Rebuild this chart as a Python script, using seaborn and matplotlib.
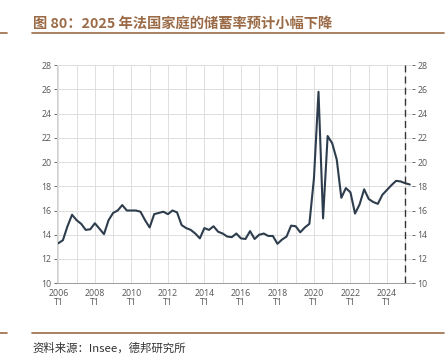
import pandas as pd
import numpy as np
import matplotlib.pyplot as plt
import seaborn as sns

# Household saving rate, France, quarterly (Insee)
years = [y for y in range(2006, 2026) for _ in range(4)][:78]
quarters = [q for _ in range(2006, 2026) for q in (1, 2, 3, 4)][:78]
saving_rate = [
    13.3, 13.55, 14.7, 15.65,   # 2006
    15.2, 14.9, 14.4, 14.45,    # 2007
    14.95, 14.5, 14.05, 15.2,   # 2008
    15.8, 16.0, 16.45, 16.0,    # 2009
    16.0, 16.0, 15.9, 15.2,     # 2010
    14.6, 15.7, 15.8, 15.9,     # 2011
    15.7, 16.0, 15.85, 14.8,    # 2012
    14.55, 14.4, 14.1, 13.7,    # 2013
    14.55, 14.4, 14.7, 14.25,   # 2014
    14.1, 13.85, 13.8, 14.1,    # 2015
    13.7, 13.65, 14.3, 13.65,   # 2016
    14.0, 14.1, 13.9, 13.9,     # 2017
    13.25, 13.6, 13.85, 14.75,  # 2018
    14.7, 14.2, 14.6, 14.9,     # 2019
    18.65, 25.8, 15.35, 22.15,  # 2020
    21.55, 20.2, 17.05, 17.85,  # 2021
    17.5, 15.75, 16.5, 17.75,   # 2022
    16.95, 16.7, 16.55, 17.3,   # 2023
    17.7, 18.1, 18.45, 18.4,    # 2024
    18.25, 18.15,               # 2025
]
tick_years = [2006, 2008, 2010, 2012, 2014, 2016, 2018, 2020, 2022, 2024]
tick_labels = [f"{y}\nT1" for y in tick_years]
y_ticks = list(range(10, 30, 2))
forecast_start = 2025

df = pd.DataFrame({'year': years, 'q': quarters, 'rate': saving_rate})
df['t'] = df['year'] + (df['q'] - 1) / 4

sns.set_theme(style="white")
plt.rcParams['font.family'] = ['Noto Sans CJK SC', 'DejaVu Sans']

fig = plt.figure(figsize=(4.48, 3.64), dpi=100)
ax = fig.add_axes([0.127, 0.222, 0.793, 0.599])

sns.lineplot(data=df, x='t', y='rate', color='#2e3d4d', linewidth=1.5, ax=ax)

ax.set_xlim(2005.92, 2025.38)
ax.set_ylim(10, 28)
ax.set_xticks(tick_years)
ax.set_xticklabels(tick_labels)
ax.set_xticks(np.arange(2006, 2025.5, 0.25), minor=True)
ax.set_yticks(y_ticks)
ax.set_xlabel('')
ax.set_ylabel('')

# grid every year / every 2 points
for yr in range(2006, 2026):
    ax.axvline(yr, color='#dedede', linewidth=0.7, zorder=0)
ax.grid(axis='y', color='#dedede', linewidth=0.7)
ax.set_axisbelow(True)

ax.axvline(forecast_start, color='#333333', linewidth=1.0, linestyle=(0, (5, 3)), zorder=3)

for s in ['top', 'right']:
    ax.spines[s].set_visible(False)
ax.spines['left'].set_color('#cfcfcf')
ax.spines['bottom'].set_color('#9a9a9a')
ax.spines['left'].set_linewidth(0.7)
ax.spines['bottom'].set_linewidth(0.7)

ax.tick_params(axis='both', which='major', labelsize=6.3, colors='#555555', length=2.5, width=0.6,
               pad=1.5)
ax.tick_params(axis='y', labelright=True, right=True, left=True)
ax.tick_params(axis='x', which='minor', length=1.5, width=0.5, colors='#aaaaaa')
for lab in ax.get_xticklabels() + ax.get_yticklabels():
    lab.set_family(['Open Sans', 'DejaVu Sans'])
    lab.set_linespacing(1.0)

brown = '#9b6b47'
fig.text(0.073, 0.935, '图 80：2025 年法国家庭的储蓄率预计小幅下降', fontsize=10.3,
         fontweight='bold', color=brown, ha='left', va='center')
fig.add_artist(plt.Line2D([0.072, 0.99], [0.91, 0.91], color=brown, linewidth=1.2))
fig.add_artist(plt.Line2D([0.0, 0.015], [0.91, 0.91], color=brown, linewidth=1.2))
fig.add_artist(plt.Line2D([0.072, 0.99], [0.085, 0.085], color=brown, linewidth=1.2))
fig.add_artist(plt.Line2D([0.0, 0.015], [0.085, 0.085], color=brown, linewidth=1.2))
fig.text(0.073, 0.045, '资料来源：Insee，德邦研究所', fontsize=8.2, color='#333333',
         ha='left', va='center')

fig.savefig('out.png', dpi=100)
